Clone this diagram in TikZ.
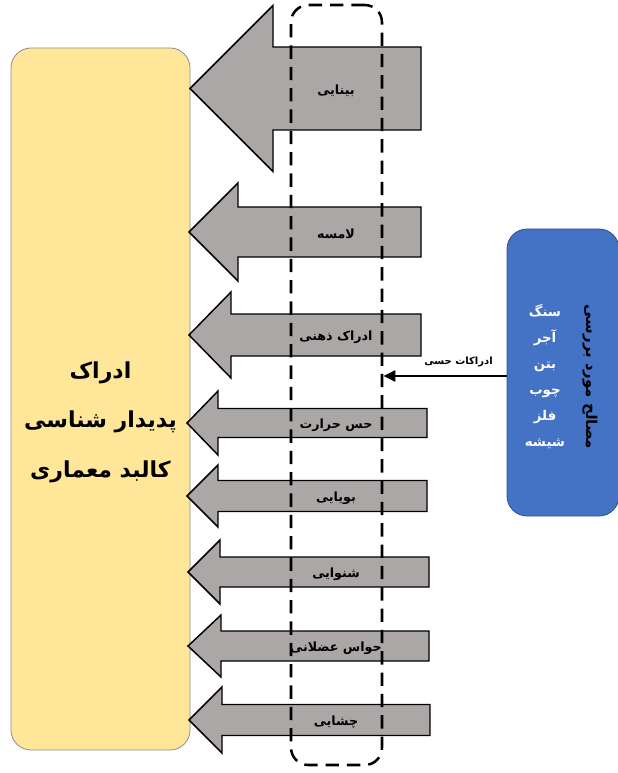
\documentclass[tikz,border=0pt]{standalone}
\usepackage{fontspec}
\usetikzlibrary{arrows.meta}
\TeXXeTstate=1
\newfontfamily\arabicfont[Script=Arabic]{DejaVu Sans}
\definecolor{senseGray}{RGB}{171,167,166}
\definecolor{bodyYellow}{RGB}{255,230,153}
\definecolor{bodyEdge}{RGB}{140,140,140}
\definecolor{matBlue}{RGB}{68,114,196}
\definecolor{matEdge}{RGB}{47,82,143}

% one wide sense arrow pointing left: name, tip x, centre y, head base x,
% head half height, shaft half height, right end x
\newcommand\sensearrow[7]{%
  \draw[sensebody] (#2,#3) -- (#4,#3-#5) -- (#4,#3-#6) -- (#7,#3-#6)
    -- (#7,#3+#6) -- (#4,#3+#6) -- (#4,#3+#5) -- cycle;
  \coordinate (#1) at (336,#3+2);
}

\begin{document}
\begin{tikzpicture}[x=0.75pt,y=-0.75pt,
  sensebody/.style={draw=black,line width=1.1pt,fill=senseGray,line join=miter},
  senselbl/.style={font=\arabicfont\bfseries\fontsize{9.5}{11}\selectfont,inner sep=0pt},
  bodybox/.style={draw=bodyEdge,line width=0.6pt,fill=bodyYellow,rounded corners=15pt},
  matbox/.style={draw=matEdge,line width=0.6pt,fill=matBlue,rounded corners=15pt},
  column/.style={draw=black,line width=1.9pt,dash pattern=on 10pt off 6pt,rounded corners=13pt}]
\useasboundingbox (0,0) rectangle (617,773);

% perception body on the left
\node[bodybox,minimum width={179*0.75pt},minimum height={702*0.75pt}]
  (body) at (100.5,399) {};
\node[align=center,font=\arabicfont\bfseries\fontsize{16.5}{37}\selectfont]
  (bodytext) at (100.5,422)
  {\beginR ادراک\endR\\ \beginR پدیدار شناسی\endR\\ \beginR کالبد معماری\endR};

% sense arrows
\sensearrow{s1}{190}{88.5}{273}{83}{41.5}{421}
\sensearrow{s2}{189}{232}{238}{49}{25}{421}
\sensearrow{s3}{189}{335}{231}{43}{21}{421}
\sensearrow{s4}{187}{423}{218}{32}{14.5}{427}
\sensearrow{s5}{187}{496}{218}{31}{15.5}{427}
\sensearrow{s6}{188}{572}{220}{32}{15}{429}
\sensearrow{s7}{188}{646}{221}{31}{15}{429}
\sensearrow{s8}{189}{720}{222}{33}{15.5}{430}

% dashed column crossing all arrows
\node[column,minimum width={91*0.75pt},minimum height={760*0.75pt}]
  (col) at (336.5,385) {};

% sense names
\node[senselbl] (l1) at (s1) {\beginR بینایی\endR};
\node[senselbl] (l2) at (s2) {\beginR لامسه\endR};
\node[senselbl] (l3) at (s3) {\beginR ادراک ذهنی\endR};
\node[senselbl] (l4) at (s4) {\beginR حس حرارت\endR};
\node[senselbl] (l5) at (s5) {\beginR بویایی\endR};
\node[senselbl] (l6) at (s6) {\beginR شنوایی\endR};
\node[senselbl] (l7) at (s7) {\beginR حواس عضلانی\endR};
\node[senselbl] (l8) at (s8) {\beginR چشایی\endR};

% materials box on the right
\node[matbox,minimum width={112*0.75pt},minimum height={287*0.75pt}]
  (mat) at (563,372.5) {};
\node[text=white,align=center,font=\arabicfont\bfseries\fontsize{10}{19.5}\selectfont]
  (matlist) at (545,377)
  {\beginR سنگ\endR\\ \beginR آجر\endR\\ \beginR بتن\endR\\ \beginR چوب\endR\\ \beginR فلز\endR\\ \beginR شیشه\endR};
\node[rotate=-90,font=\arabicfont\bfseries\fontsize{11.2}{14}\selectfont]
  (mattitle) at (590,377) {\beginR مصالح مورد بررسی\endR};

% sensory link into the column
\draw[line width=2.2pt,-{Triangle[length=9pt,width=8pt]}]
  ([yshift=-3.5*0.75pt]mat.west) -- ([yshift=-3.5*0.75pt]mat.west -| col.east)
  node[pos=0.39,above=2pt,font=\arabicfont\bfseries\fontsize{7.5}{9}\selectfont] (linklbl)
  {\beginR ادراکات حسی\endR};
\end{tikzpicture}
\end{document}
